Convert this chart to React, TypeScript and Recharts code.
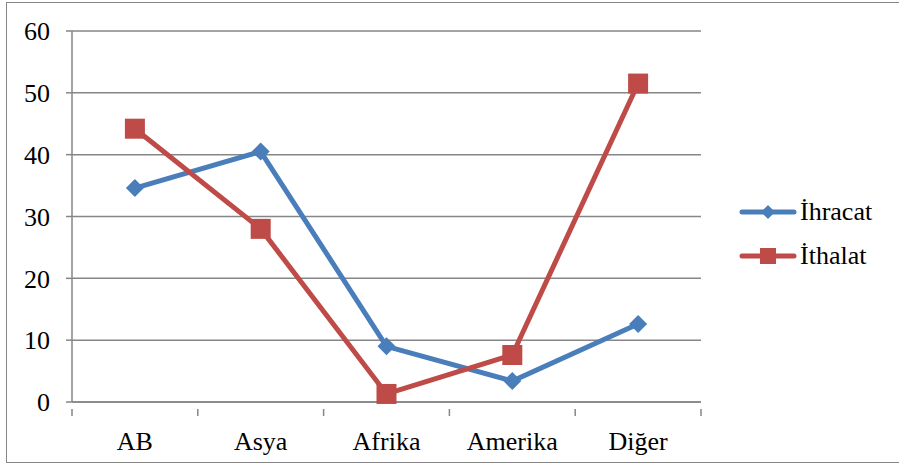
import { LineChart, Line, XAxis, YAxis, CartesianGrid } from 'recharts'

const regions = ['AB', 'Asya', 'Afrika', 'Amerika', 'Diğer']
const ihracat = [34.6, 40.5, 9.0, 3.4, 12.6]
const ithalat = [44.2, 28.0, 1.3, 7.6, 51.5]
const yTicks = [0, 10, 20, 30, 40, 50, 60]

const data = regions.map((r, i) => ({ region: r, ihracat: ihracat[i], ithalat: ithalat[i] }))

const BLUE = '#4A7EBB'
const RED = '#BE4B48'
const GRID = '#868686'
const FONT = "'Times New Roman', 'Liberation Serif', serif"
const FS = 26

function Diamond({ cx, cy, r = 9 }: { cx: number; cy: number; r?: number }) {
  return <path d={`M${cx},${cy - r}L${cx + r},${cy}L${cx},${cy + r}L${cx - r},${cy}Z`} fill={BLUE} />
}

function Square({ cx, cy, s = 10 }: { cx: number; cy: number; s?: number }) {
  return <rect x={cx - s} y={cy - s} width={s * 2} height={s * 2} fill={RED} />
}

const plotW = 629
const half = plotW / regions.length / 2

function CategoryTick(props: any) {
  const { x, y, payload, index } = props
  return (
    <g>
      <line x1={x - half} y1={y - 1} x2={x - half} y2={y + 6} stroke={GRID} strokeWidth={1.5} />
      {index === regions.length - 1 && (
        <line x1={x + half} y1={y - 1} x2={x + half} y2={y + 6} stroke={GRID} strokeWidth={1.5} />
      )}
      <text x={x} y={y + 40} textAnchor="middle" fontSize={FS} style={{ fontFamily: FONT }} fill="#000">
        {payload.value}
      </text>
    </g>
  )
}

function LegendBox() {
  const items = [
    { name: 'İhracat', color: BLUE, kind: 'diamond' },
    { name: 'İthalat', color: RED, kind: 'square' },
  ]
  return (
    <svg width={160} height={90} style={{ position: 'absolute', left: 738, top: 190 }}>
      {items.map((it, i) => {
        const cy = 22 + i * 44
        return (
          <g key={it.name}>
            <line x1={4} y1={cy} x2={56} y2={cy} stroke={it.color} strokeWidth={5} strokeLinecap="round" />
            {it.kind === 'diamond' ? <Diamond cx={30} cy={cy} r={7} /> : <Square cx={30} cy={cy} s={8} />}
            <text x={62} y={cy + 8} fontSize={FS} style={{ fontFamily: FONT }} fill="#000">
              {it.name}
            </text>
          </g>
        )
      })}
    </svg>
  )
}

export default function App() {
  return (
    <div style={{ position: 'fixed', left: 0, top: 0, width: 899, height: 468, background: '#fff', fontFamily: FONT }}>
      <div
        style={{
          position: 'absolute',
          left: 6,
          top: 2,
          width: 900,
          height: 461,
          border: `1.5px solid ${GRID}`,
          boxSizing: 'border-box',
        }}
      />
      <LineChart
        width={899}
        height={468}
        data={data}
        margin={{ top: 31, right: 198, left: 12, bottom: 36 }}
        style={{ position: 'absolute', left: 0, top: 0, fontFamily: FONT }}
      >
        <CartesianGrid vertical={false} stroke={GRID} strokeWidth={1.5} />
        <XAxis
          dataKey="region"
          height={30}
          padding={{ left: half, right: half }}
          axisLine={{ stroke: GRID, strokeWidth: 1.5 }}
          tickLine={false}
          tick={<CategoryTick />}
          interval={0}
        />
        <YAxis
          width={60}
          domain={[0, 60]}
          ticks={yTicks}
          interval={0}
          axisLine={{ stroke: GRID, strokeWidth: 1.5 }}
          tickLine={{ stroke: GRID, strokeWidth: 1.5 }}
          tickSize={6}
          tickMargin={16}
          tick={{ fontSize: FS, fontFamily: FONT, fill: '#000' }}
        />
        <Line
          type="linear"
          dataKey="ihracat"
          name="İhracat"
          stroke={BLUE}
          strokeWidth={5}
          isAnimationActive={false}
          dot={(p: any) => <Diamond key={`d${p.index}`} cx={p.cx} cy={p.cy} />}
        />
        <Line
          type="linear"
          dataKey="ithalat"
          name="İthalat"
          stroke={RED}
          strokeWidth={5}
          isAnimationActive={false}
          dot={(p: any) => <Square key={`s${p.index}`} cx={p.cx} cy={p.cy} />}
        />
      </LineChart>
      <LegendBox />
    </div>
  )
}
